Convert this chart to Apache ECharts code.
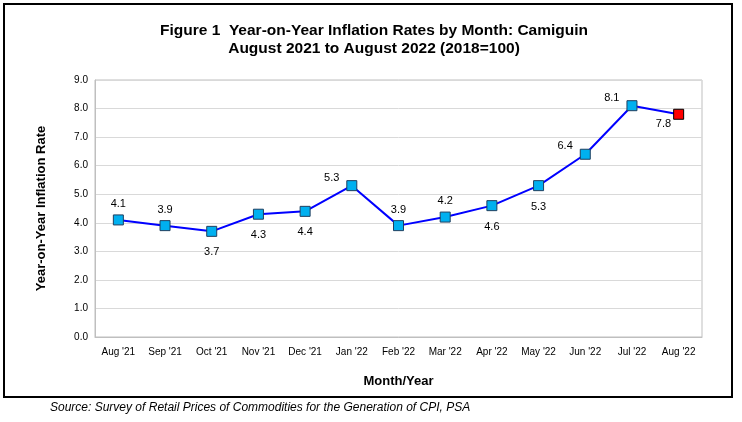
<!DOCTYPE html>
<html><head><meta charset="utf-8">
<script src="https://cdn.jsdelivr.net/npm/echarts@6/dist/echarts.min.js"></script>
<style>html,body{margin:0;padding:0;background:#fff}#c{width:742px;height:422px}</style>
</head><body><div id="c"></div>
<script>
const categories = ["Aug '21","Sep '21","Oct '21","Nov '21","Dec '21","Jan '22","Feb '22","Mar '22","Apr '22","May '22","Jun '22","Jul '22","Aug '22"];
const inflation = [4.1,3.9,3.7,4.3,4.4,5.3,3.9,4.2,4.6,5.3,6.4,8.1,7.8];
const labelPos = ["top","top","bottom","bottom","bottom","left","top","top","bottom","bottom","left","left","left"];
const yTicks = [0,1,2,3,4,5,6,7,8,9];

const font = "'Liberation Sans', Arial, sans-serif";
const data = inflation.map((v,i)=>{
  const last = i === inflation.length-1;
  const pos = labelPos[i];
  let off = [0,0], dist = 10;
  if (pos === 'top') dist = 5;
  if (pos === 'left') { off = last ? [0,10] : [0,-8]; dist = last ? 2 : 7; }
  return {
    value: v,
    itemStyle: last ? {color:'#FF0000', borderColor:'#000', borderWidth:1} : {color:'#00B0F0', borderColor:'#1F3F5F', borderWidth:1},
    label: {position: pos, offset: off, distance: dist}
  };
});

const chart = echarts.init(document.getElementById('c'));
chart.setOption({
  animation:false,
  title:{
    text:"Figure 1  Year-on-Year Inflation Rates by Month: Camiguin\nAugust 2021 to August 2022 (2018=100)",
    left:369, top:17, textAlign:'center',
    textStyle:{fontFamily:font,fontSize:15.5,fontWeight:'bold',color:'#000',lineHeight:18}
  },
  graphic:[
    {type:'rect',shape:{x:4,y:4,width:728,height:393},style:{fill:'none',stroke:'#000',lineWidth:2}},
    {type:'text',left:50,top:402,style:{text:'Source: Survey of Retail Prices of Commodities for the Generation of CPI, PSA',font:"italic 12px 'Liberation Sans', Arial, sans-serif",fill:'#000'}}
  ],
  grid:{left:95,right:40,top:80,bottom:85,show:true,borderColor:'#BFBFBF',borderWidth:1},
  xAxis:{
    type:'category',data:categories,boundaryGap:true,
    name:'Month/Year',nameLocation:'middle',nameGap:38,
    nameTextStyle:{fontFamily:font,fontSize:13,fontWeight:'bold',color:'#000'},
    axisLine:{lineStyle:{color:'#BFBFBF'}},axisTick:{show:false},
    axisLabel:{fontFamily:font,fontSize:10,color:'#000',margin:10,interval:0}
  },
  yAxis:{
    type:'value',min:yTicks[0],max:yTicks[yTicks.length-1],interval:1,
    name:'Year-on-Year Inflation Rate',nameLocation:'middle',nameGap:47,nameRotate:90,
    nameTextStyle:{fontFamily:font,fontSize:13,fontWeight:'bold',color:'#000'},
    axisLine:{show:true,lineStyle:{color:'#BFBFBF'}},axisTick:{show:false},
    splitLine:{lineStyle:{color:'#D9D9D9'}},
    axisLabel:{fontFamily:font,fontSize:10,color:'#000',margin:7,formatter:v=>v.toFixed(1)}
  },
  series:[{
    type:'line',data:data,symbol:'rect',symbolSize:10,
    lineStyle:{color:'#0000FF',width:2},
    label:{show:true,fontFamily:font,fontSize:11,color:'#000',formatter:p=>p.value.toFixed(1)}
  }]
});
</script></body></html>
